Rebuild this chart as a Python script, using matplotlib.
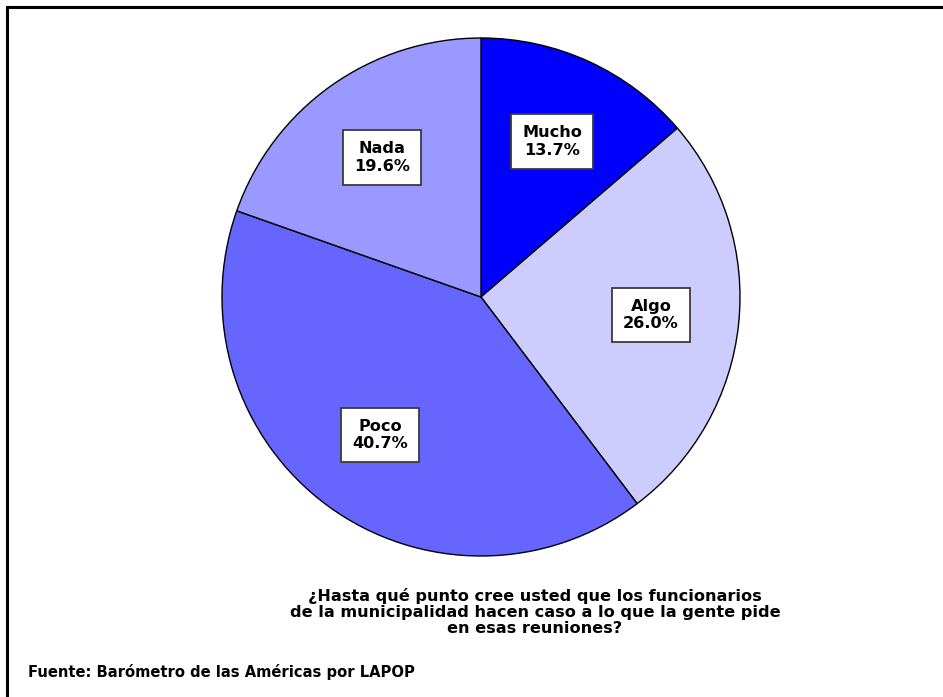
import matplotlib.pyplot as plt
from matplotlib.patches import Rectangle

plt.rcParams['font.family'] = ['DejaVu Sans']

categories = ['Mucho', 'Algo', 'Poco', 'Nada']
values = [13.7, 26.0, 40.7, 19.6]
colors = ['#0000FF', '#CCCCFF', '#6666FF', '#9999FF']
question = ('¿Hasta qué punto cree usted que los funcionarios\n'
            'de la municipalidad hacen caso a lo que la gente pide\n'
            'en esas reuniones?')
source = 'Fuente: Barómetro de las Américas por LAPOP'

W, H = 943, 697
fig = plt.figure(figsize=(W / 100, H / 100), dpi=100)

# pie axes: center (481, 297), radius 259 px
cx, cy, r = 481, 297, 259
ax = fig.add_axes([(cx - r) / W, 1 - (cy + r) / H, 2 * r / W, 2 * r / H])
labels = [f'{c}\n{v:.1f}%' for c, v in zip(categories, values)]
wedges, texts = ax.pie(values, colors=colors, startangle=90, counterclock=False,
                       labels=labels, labeldistance=0.66,
                       wedgeprops=dict(edgecolor='black', linewidth=1.0),
                       textprops=dict(fontsize=11.6, fontweight='bold',
                                      ha='center', va='center', linespacing=1.2))
for t in texts:
    t.set_horizontalalignment('center')
    t.set_bbox(dict(boxstyle='square,pad=0.68', facecolor='white',
                    edgecolor='#3a3a3a', linewidth=1.3))
ax.set_xlim(-1, 1)
ax.set_ylim(-1, 1)
ax.set_aspect('equal')

# frame (only top/left visible)
fig.add_artist(Rectangle((7 / W, -0.1), 1.2, 1 - 7 / H + 0.1, transform=fig.transFigure,
                         fill=False, edgecolor='black', linewidth=2.2))

fig.text(535 / W, 1 - 612 / H, question, ha='center', va='center',
         fontsize=11.6, fontweight='bold', linespacing=1.1)
fig.text(28 / W, 1 - 672 / H, source, ha='left', va='center',
         fontsize=10.65, fontweight='bold')

fig.savefig('out.png', dpi=100)
